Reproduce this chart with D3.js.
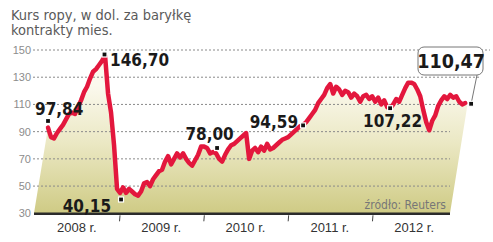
<!DOCTYPE html>
<html><head><meta charset="utf-8">
<script src="https://cdn.jsdelivr.net/npm/d3@7/dist/d3.min.js"></script>
<style>
html,body{margin:0;padding:0;background:#fff;}
svg{display:block;}
.narrow{font-family:"Liberation Sans Narrow","DejaVu Sans Condensed","Liberation Sans",sans-serif;}
</style></head>
<body><svg id="c" width="493" height="242"></svg>
<script>
// ---- data ----
const yearLabels = ["2008 r.","2009 r.","2010 r.","2011 r.","2012 r."];
const yearStarts = [2008, 2009, 2010, 2011, 2012];
const yTicks = [30, 50, 70, 90, 110, 130, 150];
const seriesStart = 2008.146;   // first observation (fractional year)
const seriesStep = 0.0356;      // spacing between observations (years)
const prices = [
 93,86,85,89,92,95,99,103,104,103,108,113,119,123,129,134,136,139,142,146,
 118,104,80,48,45,49,45,48,46,44,43,46,52,53,50,55,58,61,62,68,
 72,66,70,74,71,74,70,67,65,69,73,79,79,78,74,75,74,70,68,73,
 77,80,81,83,85,87,89,70,76,78,75,79,76,81,77,78,80,82,84,85,
 86,88,90,92,94,95,97,100,103,106,111,114,117,122,125,118,123,121,117,120,
 119,115,118,116,112,116,117,114,116,112,115,110,113,108,107,110,114,112,117,122,
 126,126,125,121,116,106,97,91,98,102,109,113,116,114,117,115,116,112,110,111
];
const annYears  = [2008.146, 2008.816, 2009.012, 2010.151, 2011.171, 2012.203, 2013.164];
const annValues = [97.84, 146.70, 40.15, 78.00, 94.59, 107.22, 110.47];
const annLabels = ["97,84","146,70","40,15","78,00","94,59","107,22","110,47"];
const titleLines = ["Kurs ropy, w dol. za baryłkę","kontrakty mies."];
const sourceText = "źródło: Reuters";

// ---- layout ----
const svg = d3.select("#c");
const x = d3.scaleLinear().domain([2008, 2013]).range([35.7, 457.3]);
const y = d3.scaleLinear().domain([30, 150]).range([213.3, 50]);
const pts = prices.map((v,i)=>[seriesStart + i*seriesStep, v]);

// gradient
const defs = svg.append("defs");
const g = defs.append("linearGradient").attr("id","fillg")
  .attr("gradientUnits","userSpaceOnUse").attr("x1",0).attr("y1",85).attr("x2",0).attr("y2",213);
g.append("stop").attr("offset",0).attr("stop-color","#fbf9ee");
g.append("stop").attr("offset",0.45).attr("stop-color","#ebe8c4");
g.append("stop").attr("offset",1).attr("stop-color","#cfcb85");

// title
svg.append("g").selectAll("text").data(titleLines).join("text")
  .attr("class","narrow").attr("x",11).attr("y",(d,i)=>20+i*15)
  .attr("font-size",14.5).attr("fill","#5a5a5a").text(d=>d);

// fill
const linePath = d3.line().x(d=>x(d[0])).y(d=>y(d[1]));
const last = pts[pts.length-1];
const areaD = "M34," + y(30) + "L" + pts.map(d=>x(d[0])+","+y(d[1])).join("L") +
  "L" + (x(last[0])+2) + "," + (y(last[1])+3) + "L450," + y(30) + "Z";
svg.append("path").attr("d",areaD).attr("fill","url(#fillg)");

// grid
const gridEnd = {30:450,50:450,70:450,90:450,110:462,130:480,150:490};
svg.append("g").selectAll("line").data(yTicks.filter(t=>t>30)).join("line")
  .attr("x1",33).attr("x2",d=>gridEnd[d]).attr("y1",d=>y(d)).attr("y2",d=>y(d))
  .attr("stroke","#8a8a8a").attr("stroke-width",1).attr("stroke-dasharray","2,2");

// y labels
svg.append("g").selectAll("text").data(yTicks).join("text")
  .attr("x",31).attr("y",d=>y(d)+4).attr("text-anchor","end")
  .attr("font-family","Liberation Sans, sans-serif").attr("font-size",11).attr("fill","#8c8c8c").text(d=>d);

// source
svg.append("text").attr("class","narrow").attr("x",446).attr("y",209).attr("text-anchor","end")
  .attr("font-size",12).attr("fill","#777").text(sourceText);

// baseline axis
svg.append("line").attr("x1",34).attr("x2",450).attr("y1",y(30)+0.5).attr("y2",y(30)+0.5)
  .attr("stroke","#2b2b2b").attr("stroke-width",2.5);
svg.append("g").selectAll("line").data(yearStarts.slice(1)).join("line")
  .attr("x1",d=>x(d)).attr("x2",d=>x(d)-0.5).attr("y1",y(30)+2).attr("y2",y(30)+8)
  .attr("stroke","#444").attr("stroke-width",1);
svg.append("g").selectAll("text").data(yearStarts).join("text")
  .attr("x",d=>x(d+0.5)-1).attr("y",232).attr("text-anchor","middle")
  .attr("font-family","Liberation Sans, sans-serif").attr("font-size",13).attr("fill","#333")
  .text((d,i)=>yearLabels[i]);

// line
svg.append("path").attr("d",linePath(pts)).attr("fill","none")
  .attr("stroke","#e3173d").attr("stroke-width",4.5).attr("stroke-linejoin","round").attr("stroke-linecap","round");

// annotation callout box
const bx = 418, by = 47, bw = 65, bh = 28;
svg.append("line").attr("x1",477).attr("y1",by+bh).attr("x2",x(annYears[6])).attr("y2",y(annValues[6]))
  .attr("stroke","#777").attr("stroke-width",1);
svg.append("rect").attr("x",bx).attr("y",by).attr("width",bw).attr("height",bh).attr("rx",6)
  .attr("fill","#fff").attr("stroke","#777").attr("stroke-width",1);

// markers
svg.append("g").selectAll("rect").data(annYears).join("rect")
  .attr("x",(d)=>x(d)-2.5).attr("y",(d,i)=>y(annValues[i])-2.5).attr("width",5).attr("height",5)
  .attr("fill","#111").attr("stroke","#fff").attr("stroke-width",1.2);

// labels
const off = [
  {dx:-13, dy:-6, a:"start", fs:17},
  {dx:5.5, dy:11.5, a:"start", fs:17},
  {dx:-10, dy:12.5, a:"end", fs:17},
  {dx:-7.5, dy:-8, a:"middle", fs:17},
  {dx:-5, dy:3, a:"end", fs:17},
  {dx:2.5, dy:19, a:"middle", fs:17},
  {dx:-20, dy:-35.5, a:"middle", fs:19.5}
];
svg.append("g").selectAll("text").data(annLabels).join("text")
  .attr("class","narrow")
  .attr("x",(d,i)=>x(annYears[i])+off[i].dx).attr("y",(d,i)=>y(annValues[i])+off[i].dy)
  .attr("text-anchor",(d,i)=>off[i].a).attr("font-size",(d,i)=>off[i].fs)
  .attr("font-weight","bold").attr("fill","#1a1a1a").text(d=>d);
</script></body></html>
